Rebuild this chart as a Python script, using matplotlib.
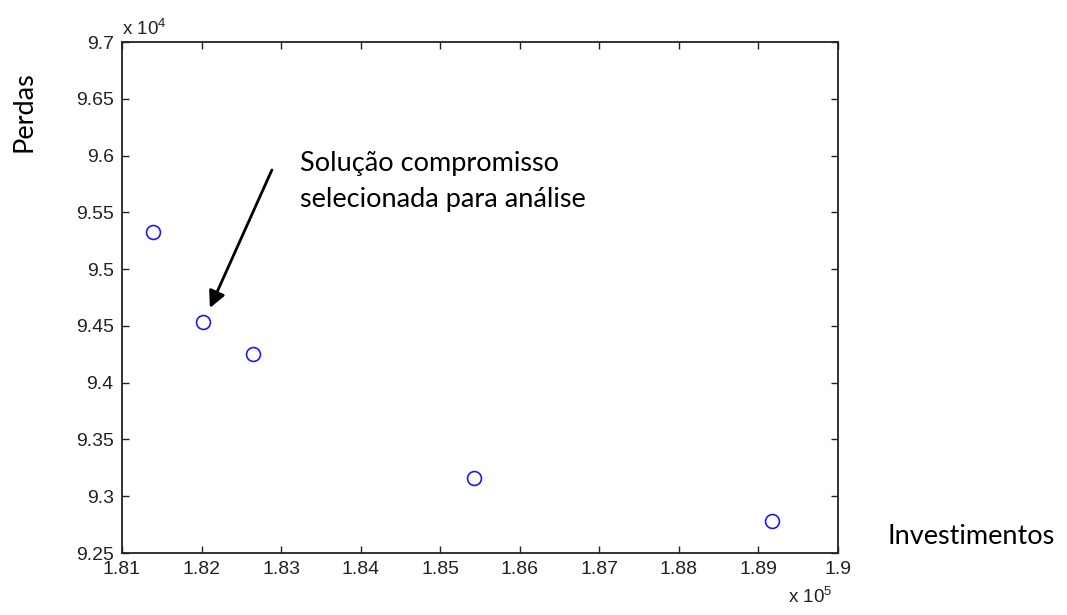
import matplotlib
matplotlib.use("Agg")
import matplotlib.pyplot as plt
from matplotlib.ticker import FuncFormatter, MultipleLocator

# Data (investments, losses)
investimentos = [1.8139e5, 1.8202e5, 1.8265e5, 1.8543e5, 1.8917e5]
perdas = [9.5327e4, 9.4535e4, 9.4254e4, 9.3162e4, 9.2783e4]

x_lim = (1.81e5, 1.90e5)
y_lim = (9.25e4, 9.70e4)

annot_text = "Solução compromisso\nselecionada para análise"

plt.rcParams['mathtext.fontset'] = 'custom'
plt.rcParams['mathtext.rm'] = 'Liberation Sans'
plt.rcParams['mathtext.it'] = 'Liberation Sans'

fig = plt.figure(figsize=(10.67, 6.15), dpi=100)
ax = fig.add_axes([122/1067, 1-553/615, 716/1067, 511/615])

ax.plot(investimentos, perdas, linestyle='none', marker='o', markersize=10,
        markerfacecolor='none', markeredgecolor='#1a1aff', markeredgewidth=1.2)

ax.set_xlim(*x_lim)
ax.set_ylim(*y_lim)
ax.xaxis.set_major_locator(MultipleLocator(1000))
ax.yaxis.set_major_locator(MultipleLocator(500))
ax.xaxis.set_major_formatter(FuncFormatter(lambda v, p: f"{round(v/1e5, 4):g}"))
ax.yaxis.set_major_formatter(FuncFormatter(lambda v, p: f"{round(v/1e4, 4):g}"))

ax.tick_params(direction='in', length=5, width=1, top=True, right=True,
               labelsize=14, colors='#222222')
ax.tick_params(axis='y', pad=6)
ax.tick_params(axis='x', pad=6)
for lab in ax.get_xticklabels() + ax.get_yticklabels():
    lab.set_fontfamily('Liberation Sans')
for s in ax.spines.values():
    s.set_linewidth(1.3)
    s.set_color('#222222')

# Exponent labels
fig.text(122/1067, 1-29/615, r'x 10$^{4}$', fontsize=13.5, family='Liberation Sans',
         ha='left', va='center', color='#222222')
fig.text(788/1067, 1-597/615, r'x 10$^{5}$', fontsize=13.5, family='Liberation Sans',
         ha='left', va='center', color='#222222')

# Axis titles
fig.text(24/1067, 1-112/615, 'Perdas', rotation=90, fontsize=19.5, family='Lato',
         ha='center', va='center')
fig.text(888/1067, 1-536/615, 'Investimentos', fontsize=19.5, family='Lato',
         ha='left', va='center')

# Annotation
ax.annotate('', xy=(1.82105e5, 9.4658e4), xytext=(1.82884e5, 9.5873e4),
            arrowprops=dict(arrowstyle='-|>', color='black', lw=2,
                            mutation_scale=25, shrinkA=0, shrinkB=0))
fig.text(300/1067, 1-182/615, annot_text, fontsize=19.5, family='Lato',
         ha='left', va='center', linespacing=1.55)

fig.savefig('out.png', dpi=100, facecolor='white')
